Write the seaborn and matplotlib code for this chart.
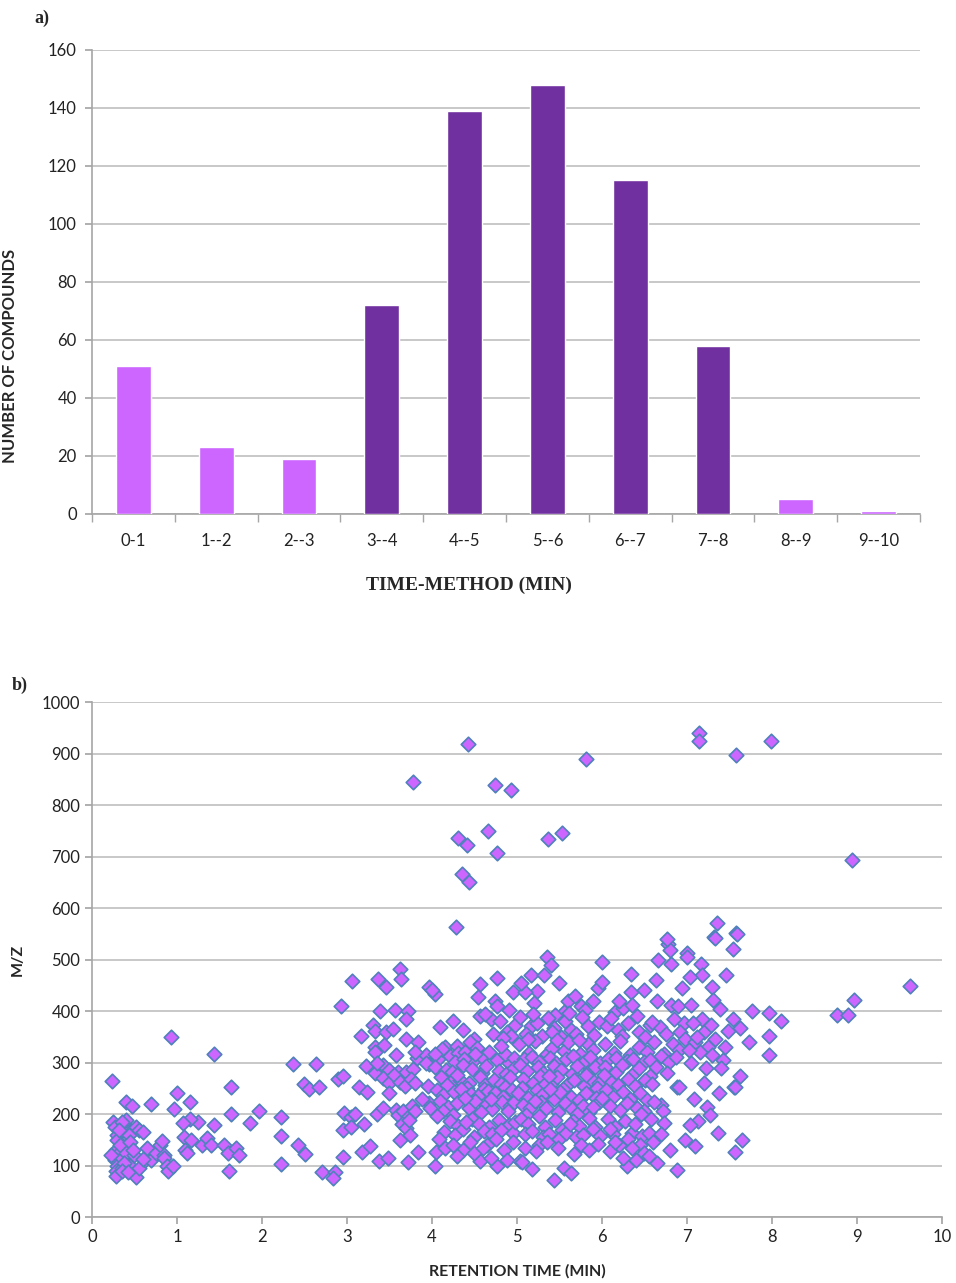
import matplotlib
matplotlib.use('Agg')
import matplotlib.pyplot as plt
from matplotlib.ticker import MultipleLocator, FixedLocator, NullFormatter
import seaborn as sns
import pandas as pd
import numpy as np

# ---- panel a) histogram of compounds per retention window ----
time_bins = ['0-1', '1--2', '2--3', '3--4', '4--5', '5--6', '6--7', '7--8', '8--9', '9--10']
n_compounds = [51, 23, 19, 72, 139, 148, 115, 58, 5, 1]
dark_bins = ['3--4', '4--5', '5--6', '6--7', '7--8']

# ---- panel b) retention time vs m/z, read per minute window ----
rt_0_1 = [0.23, 0.25, 0.27, 0.30, 0.30, 0.28, 0.30, 0.27, 0.30, 0.28, 0.28, 0.35, 0.35, 0.33, 0.38, 0.40,
          0.40, 0.47, 0.43, 0.45, 0.40, 0.45, 0.50, 0.50, 0.52, 0.55, 0.52, 0.55, 0.60, 0.62, 0.69, 0.65,
          0.70, 0.75, 0.80, 0.82, 0.85, 0.85, 0.88, 0.93, 0.90, 0.95, 0.96, 0.35, 0.32, 0.38, 0.35, 0.42,
          0.60, 0.48, 0.22]
mz_0_1 = [265, 185, 175, 160, 150, 130, 120, 110, 100, 90, 80, 95, 115, 140, 180, 188,
          223, 216, 160, 145, 125, 100, 85, 120, 78, 95, 175, 170, 165, 110, 220, 135,
          110, 125, 140, 148, 120, 115, 100, 350, 90, 100, 210, 185, 170, 105, 90, 88,
          112, 130, 120]

rt_1_2 = [1.00, 1.15, 1.63, 1.63, 1.97, 1.86, 1.44, 1.25, 1.15, 1.07, 1.08, 1.10, 1.12, 1.17, 1.30, 1.35,
          1.40, 1.55, 1.60, 1.70, 1.73, 1.61, 1.43]
mz_1_2 = [241, 223, 252, 200, 206, 182, 178, 185, 191, 182, 155, 130, 125, 150, 140, 153,
          140, 140, 125, 135, 120, 90, 316]

rt_2_3 = [2.22, 2.22, 2.22, 2.36, 2.63, 2.50, 2.55, 2.67, 2.42, 2.51, 2.71, 2.86, 2.83, 2.89, 2.95, 2.95,
          2.95, 2.97, 2.93]
mz_2_3 = [194, 158, 103, 297, 297, 258, 248, 252, 140, 122, 88, 88, 75, 268, 274, 116,
          170, 203, 410]

rt_3_4 = [3.06, 3.36, 3.46, 3.62, 3.64, 3.97, 3.39, 3.57, 3.72, 3.69, 3.31, 3.33, 3.46, 3.54, 3.16, 3.69,
          3.84, 3.33, 3.43, 3.58, 3.22, 3.33, 3.42, 3.50, 3.60, 3.70, 3.78, 3.82, 3.93, 3.97, 3.14, 3.23,
          3.18, 3.27, 3.05, 3.33, 3.42, 3.35, 3.50, 3.55, 3.35, 3.42, 3.58, 3.38, 3.48, 3.50, 3.62, 3.68,
          3.75, 3.80, 3.60, 3.66, 3.72, 3.76, 3.80, 3.62, 3.65, 3.70, 3.74, 3.73, 3.72, 3.84, 3.80, 3.93,
          3.95, 3.96, 3.98, 3.78, 3.10, 3.20, 3.05, 3.88]
mz_3_4 = [459, 463, 446, 481, 463, 447, 400, 402, 400, 385, 373, 362, 360, 365, 351, 346,
          340, 330, 334, 314, 293, 280, 295, 285, 282, 282, 288, 308, 314, 298, 253, 242,
          127, 138, 195, 320, 270, 300, 260, 275, 200, 212, 208, 108, 114, 240, 262, 255,
          268, 260, 198, 205, 195, 215, 205, 150, 180, 172, 160, 188, 107, 127, 320, 300,
          255, 222, 212, 845, 200, 180, 175, 230]

rt_4_5 = [4.42, 4.74, 4.93, 4.66, 4.31, 4.41, 4.77, 4.35, 4.44, 4.28,
          4.03, 4.57, 4.76, 4.54, 4.74, 4.77, 4.91, 4.95, 4.00,
          4.56, 4.69, 4.80, 4.88, 4.93, 4.36, 4.50, 4.72, 4.83, 4.15, 4.30, 4.45, 4.62, 4.98, 4.25, 4.10,
          4.07, 4.21, 4.31, 4.48, 4.59, 4.77, 4.91, 4.12, 4.39, 4.53, 4.67, 4.86, 4.96, 4.27, 4.51, 4.81,
          4.04, 4.38,
          4.04, 4.16, 4.23, 4.37, 4.47, 4.59, 4.64, 4.79, 4.87, 4.97, 4.11, 4.22, 4.33, 4.44, 4.56, 4.62,
          4.73, 4.81, 4.92, 4.18, 4.41, 4.61, 4.86, 4.29,
          4.06, 4.13, 4.26, 4.34, 4.46, 4.54, 4.66, 4.74, 4.84, 4.94, 4.09, 4.19, 4.29, 4.43, 4.51, 4.63,
          4.71, 4.82, 4.92, 4.13, 4.25, 4.39, 4.58, 4.69, 4.89, 4.97,
          4.06, 4.21, 4.31, 4.47, 4.55, 4.67, 4.79, 4.91, 4.14, 4.27, 4.37, 4.49, 4.61, 4.71, 4.81, 4.95,
          4.08, 4.40, 4.75, 4.98,
          4.03, 4.05, 4.15, 4.25, 4.36, 4.57, 4.76, 4.50, 4.65, 4.85, 4.95, 4.45, 4.30, 4.70, 4.88, 4.60]
mz_4_5 = [918, 839, 829, 750, 736, 722, 707, 667, 651, 564,
          434, 453, 465, 427, 420, 410, 403, 437, 440,
          390, 385, 380, 360, 352, 363, 345, 355, 348, 331, 333, 340, 395, 372, 380, 370,
          307, 313, 318, 303, 311, 304, 299, 327, 321, 329, 320, 317, 309, 301, 316, 332,
          316, 306,
          291, 286, 281, 296, 287, 279, 293, 284, 277, 289, 271, 263, 267, 261, 271, 257,
          266, 259, 271, 256, 251, 249, 253, 275,
          246, 237, 243, 249, 239, 235, 245, 241, 234, 246, 226, 214, 221, 211, 226, 217,
          209, 223, 216, 206, 199, 231, 204, 229, 206, 224,
          196, 187, 176, 191, 181, 174, 189, 179, 166, 159, 171, 156, 167, 161, 169, 163,
          151, 185, 152, 185,
          99, 127, 135, 140, 130, 109, 100, 125, 140, 130, 145, 145, 118, 115, 110, 135]

rt_5_6 = [5.81, 5.36, 5.53, 5.35, 5.40, 5.17, 5.23, 5.10, 5.60, 5.75, 5.89, 5.55, 5.45, 5.80, 5.32, 5.05,
          5.95, 5.68, 5.50, 5.20,
          5.04, 5.16, 5.24, 5.37, 5.44, 5.56, 5.64, 5.77, 5.84, 5.96, 5.11, 5.29, 5.52, 5.69, 5.91, 5.19,
          5.61, 5.41,
          5.02, 5.14, 5.21, 5.35, 5.41, 5.55, 5.60, 5.74, 5.83, 5.90, 5.08, 5.18, 5.26, 5.39, 5.46, 5.58,
          5.66, 5.79, 5.86, 5.98, 5.13, 5.47, 5.73,
          5.03, 5.12, 5.25, 5.31, 5.44, 5.52, 5.65, 5.71, 5.84, 5.92, 5.07, 5.19, 5.27, 5.40, 5.47, 5.59,
          5.67, 5.79, 5.87, 5.97, 5.06, 5.32, 5.54, 5.81, 5.94, 5.38,
          5.01, 5.13, 5.23, 5.30, 5.43, 5.51, 5.63, 5.73, 5.81, 5.93, 5.07, 5.15, 5.28, 5.34, 5.48, 5.57,
          5.65, 5.78, 5.85, 5.97, 5.11, 5.39, 5.71, 5.89, 5.21,
          5.05, 5.13, 5.26, 5.33, 5.45, 5.53, 5.66, 5.73, 5.85, 5.92, 5.10, 5.18, 5.31, 5.38, 5.50, 5.58,
          5.70, 5.78, 5.90, 5.98, 5.26, 5.62,
          5.03, 5.06, 5.18, 5.44, 5.55, 5.64, 5.67, 5.10, 5.22, 5.35, 5.48, 5.75, 5.85, 5.95]
mz_5_6 = [889, 734, 746, 505, 489, 470, 438, 437, 420, 410, 420, 398, 392, 403, 470, 455,
          445, 430, 455, 415,
          388, 371, 376, 386, 367, 381, 363, 389, 371, 379, 356, 351, 349, 356, 353, 394,
          396, 359,
          336, 319, 341, 316, 329, 323, 339, 317, 336, 324, 306, 311, 301, 309, 299, 306,
          313, 301, 311, 299, 346, 343, 344,
          296, 284, 291, 279, 293, 286, 277, 293, 281, 291, 269, 261, 273, 259, 271, 257,
          266, 254, 269, 261, 251, 256, 249, 276, 251, 274,
          241, 231, 246, 237, 229, 243, 234, 227, 241, 231, 217, 211, 223, 211, 204, 221,
          209, 216, 204, 223, 199, 249, 201, 213, 226,
          191, 181, 196, 174, 189, 169, 186, 177, 193, 174, 161, 167, 156, 161, 151, 164,
          156, 159, 171, 157, 140, 180,
          108, 107, 94, 71, 96, 85, 122, 135, 128, 145, 135, 140, 130, 142]

rt_6_7 = [6.00, 6.00, 6.34, 6.78, 6.80, 6.66, 6.81, 6.64, 6.94, 6.34, 6.65, 6.81, 6.15, 6.25, 6.35, 6.77,
          6.50, 6.20, 6.90,
          6.06, 6.19, 6.31, 6.44, 6.56, 6.68, 6.96, 6.85, 6.11, 6.41, 6.59, 6.92, 6.75, 6.24, 6.51,
          6.03, 6.14, 6.21, 6.33, 6.43, 6.53, 6.61, 6.73, 6.84, 6.91, 6.07, 6.17, 6.29, 6.37, 6.49, 6.57,
          6.69, 6.79, 6.87, 6.98,
          6.04, 6.16, 6.24, 6.36, 6.44, 6.56, 6.64, 6.76, 6.88, 6.91, 6.11, 6.19, 6.31, 6.39, 6.51, 6.59,
          6.02,
          6.05, 6.13, 6.25, 6.33, 6.45, 6.53, 6.70, 6.72, 6.09, 6.21, 6.29, 6.41, 6.49, 6.61, 6.00, 6.46,
          6.07, 6.15, 6.27, 6.35, 6.47, 6.55, 6.73, 6.70, 6.98, 6.13, 6.31, 6.39, 6.58, 6.09,
          6.09, 6.30, 6.40, 6.45, 6.50, 6.55, 6.60, 6.88, 6.35, 6.65, 6.20, 6.80, 6.25, 6.15]
mz_6_7 = [496, 457, 471, 530, 519, 500, 491, 461, 444, 437, 419, 411, 398, 405, 411, 540,
          440, 420, 410,
          371, 364, 376, 359, 373, 369, 376, 385, 386, 391, 379, 360, 355, 351, 349,
          336, 319, 341, 314, 331, 321, 339, 317, 336, 324, 306, 309, 303, 307, 301, 304,
          313, 301, 311, 345,
          291, 281, 296, 277, 289, 274, 291, 279, 253, 252, 263, 257, 269, 254, 266, 259,
          275,
          246, 234, 243, 229, 241, 227, 218, 205, 216, 207, 221, 211, 206, 223, 231, 200,
          191, 174, 186, 164, 157, 163, 183, 162, 149, 161, 151, 181, 191, 171,
          128, 100, 110, 140, 125, 118, 145, 91, 135, 105, 140, 130, 115, 145]

rt_7_8 = [7.14, 7.14, 7.58, 7.99, 7.35, 7.58, 7.32, 7.33, 7.59, 7.54, 7.00, 7.00, 7.46, 7.17, 7.18, 7.04,
          7.29, 7.31, 7.77, 7.97, 7.97, 7.97, 7.73, 7.62, 7.55, 7.62, 7.54, 7.42, 7.39, 7.05, 7.18, 7.07,
          7.20, 7.33, 7.10, 7.25, 7.15, 7.30, 7.05, 7.40, 7.20, 7.38, 7.56, 7.23, 7.27, 7.13, 7.03, 7.37,
          7.65, 7.56, 7.10, 7.22, 7.12, 7.45, 7.02, 7.28, 7.48, 7.08]
mz_7_8 = [940, 925, 897, 924, 571, 551, 543, 541, 549, 521, 513, 505, 470, 492, 470, 466,
          447, 422, 400, 396, 351, 314, 339, 274, 253, 367, 385, 305, 404, 411, 385, 377,
          360, 345, 340, 330, 320, 315, 300, 290, 260, 240, 253, 214, 199, 187, 179, 164,
          149, 127, 137, 290, 350, 330, 325, 372, 362, 230]

rt_8_10 = [8.11, 8.77, 8.89, 8.96, 8.94, 9.63]
mz_8_10 = [381, 393, 392, 421, 693, 448]

LIGHT = '#CC66FF'
DARK = '#7030A0'
GRID = '#BFBFBF'
AXIS = '#A6A6A6'
EDGE = '#4F81BD'

sns.set_theme(style='white')
plt.rcParams['font.family'] = ['Lato', 'DejaVu Sans']

fig = plt.figure(figsize=(9.56, 12.83), dpi=100)

# ---------- a) bar chart ----------
ax1 = fig.add_axes([0.0962, 0.5994, 0.8661, 0.3617])
bar_df = pd.DataFrame({'window': time_bins, 'count': n_compounds})
palette = {b: (DARK if b in dark_bins else LIGHT) for b in time_bins}
sns.barplot(data=bar_df, x='window', y='count', hue='window', palette=palette,
            width=0.42, saturation=1, legend=False, ax=ax1, zorder=3)
ax1.set_ylim(0, 160)
ax1.set_xlim(-0.5, 9.5)
ax1.yaxis.set_major_locator(MultipleLocator(20))
ax1.yaxis.grid(True, color=GRID, linewidth=1.2, zorder=0)
ax1.set_axisbelow(True)
for s in ['top', 'right']:
    ax1.spines[s].set_visible(False)
for s in ['left', 'bottom']:
    ax1.spines[s].set_color(AXIS)
    ax1.spines[s].set_linewidth(1.2)
ax1.xaxis.set_minor_locator(FixedLocator(np.arange(-0.5, 10, 1)))
ax1.xaxis.set_minor_formatter(NullFormatter())
ax1.tick_params(axis='x', which='major', length=0, labelsize=12, pad=14, labelcolor='#222222')
ax1.tick_params(axis='x', which='minor', length=6, color=AXIS, width=1.0, bottom=True)
ax1.tick_params(axis='y', which='major', length=5, color=AXIS, labelsize=12, pad=6,
                left=True, labelcolor='#222222')
ax1.set_xlabel('')
ax1.set_ylabel('NUMBER OF COMPOUNDS', fontsize=12, fontweight='bold')
# label sits low on the axis, as in the original
ax1.yaxis.set_label_coords(-0.089, 0.34)

fig.text(0.49, 0.544, 'TIME-METHOD (MIN)', ha='center', va='center', fontsize=14,
         fontweight='bold', family=['Liberation Serif', 'DejaVu Serif'])
fig.text(0.036, 0.986, 'a)', ha='left', va='center', fontsize=13, fontweight='bold',
         family=['Liberation Serif', 'DejaVu Serif'])

# ---------- b) scatter ----------
rt_all = rt_0_1 + rt_1_2 + rt_2_3 + rt_3_4 + rt_4_5 + rt_5_6 + rt_6_7 + rt_7_8 + rt_8_10
mz_all = mz_0_1 + mz_1_2 + mz_2_3 + mz_3_4 + mz_4_5 + mz_5_6 + mz_6_7 + mz_7_8 + mz_8_10
sc_df = pd.DataFrame({'rt': rt_all, 'mz': mz_all})

ax2 = fig.add_axes([0.0962, 0.0514, 0.8891, 0.4014])
sns.scatterplot(data=sc_df, x='rt', y='mz', marker='D', s=55, color=LIGHT,
                edgecolor=EDGE, linewidth=1.2, ax=ax2, zorder=3)
ax2.set_xlim(0, 10)
ax2.set_ylim(0, 1000)
ax2.xaxis.set_major_locator(MultipleLocator(1))
ax2.yaxis.set_major_locator(MultipleLocator(100))
ax2.yaxis.grid(True, color=GRID, linewidth=1.2, zorder=0)
ax2.set_axisbelow(True)
for s in ['top', 'right']:
    ax2.spines[s].set_visible(False)
for s in ['left', 'bottom']:
    ax2.spines[s].set_color(AXIS)
    ax2.spines[s].set_linewidth(1.2)
ax2.tick_params(axis='both', which='major', length=5, color=AXIS, labelsize=12,
                bottom=True, left=True, labelcolor='#222222')
ax2.set_xlabel('RETENTION TIME (MIN)', fontsize=11.5, fontweight='bold', labelpad=14)
ax2.set_ylabel('M/Z', fontsize=11.5, fontweight='bold', labelpad=12)

fig.text(0.012, 0.466, 'b)', ha='left', va='center', fontsize=13, fontweight='bold',
         family=['Liberation Serif', 'DejaVu Serif'])

fig.savefig('out.png', dpi=100)
